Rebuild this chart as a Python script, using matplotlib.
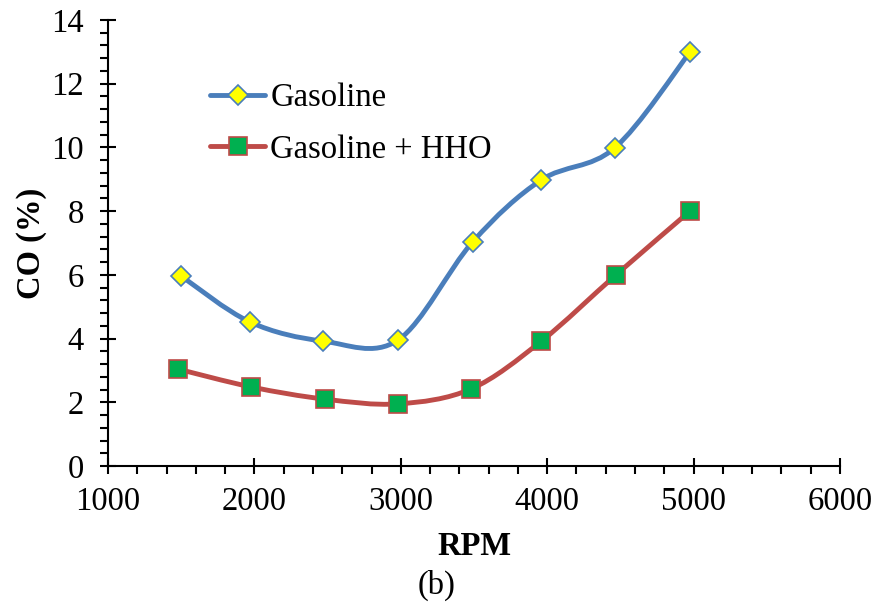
import matplotlib
matplotlib.use("Agg")
import matplotlib.pyplot as plt
from matplotlib.path import Path
from matplotlib.patches import PathPatch
from matplotlib.lines import Line2D
from matplotlib.ticker import MultipleLocator
import numpy as np

# data
rpm_gas = [1500, 1970, 2470, 2980, 3490, 3960, 4460, 4975]
co_gas = [5.96, 4.52, 3.92, 3.95, 7.03, 8.98, 9.98, 12.99]
rpm_hho = [1480, 1980, 2480, 2980, 3480, 3960, 4470, 4975]
co_hho = [3.04, 2.48, 2.10, 1.95, 2.42, 3.92, 6.00, 8.00]

blue = "#4A7EBB"
red = "#BE4B48"
fs = 23.5

plt.rcParams['font.family'] = ['Liberation Serif', 'DejaVu Serif']


def smooth_path(xs, ys):
    # excel style smoothed line: cubic bezier, catmull-rom control points
    p = np.column_stack([xs, ys]).astype(float)
    n = len(p)
    verts = [p[0]]
    codes = [Path.MOVETO]
    for i in range(n - 1):
        p0 = p[i - 1] if i > 0 else p[i]
        p1 = p[i]
        p2 = p[i + 1]
        p3 = p[i + 2] if i + 2 < n else p[i + 1]
        c1 = p1 + (p2 - p0) / 6.0
        c2 = p2 - (p3 - p1) / 6.0
        verts += [c1, c2, p2]
        codes += [Path.CURVE4] * 3
    return Path(verts, codes)


fig = plt.figure(figsize=(8.74, 6.02), dpi=100)
ax = fig.add_axes([0.1236, 0.2259, 0.8375, 0.7409])

ax.add_patch(PathPatch(smooth_path(rpm_gas, co_gas), fill=False,
                       edgecolor=blue, lw=3.5, capstyle='round', zorder=2))
ax.add_patch(PathPatch(smooth_path(rpm_hho, co_hho), fill=False,
                       edgecolor=red, lw=3.5, capstyle='round', zorder=2))

ax.plot(rpm_gas, co_gas, ls='none', marker='D', ms=10.5, mfc='#FFFF00',
        mec=blue, mew=1.2, zorder=3)
ax.plot(rpm_hho, co_hho, ls='none', marker='s', ms=13.5, mfc='#00B050',
        mec=red, mew=1.2, zorder=3)

ax.set_xlim(1000, 6000)
ax.set_ylim(0, 14)
ax.xaxis.set_major_locator(MultipleLocator(1000))
ax.xaxis.set_minor_locator(MultipleLocator(200))
ax.yaxis.set_major_locator(MultipleLocator(2))
ax.yaxis.set_minor_locator(MultipleLocator(0.4))
ax.tick_params(which='major', direction='inout', length=11, width=1.5,
               labelsize=fs)
ax.tick_params(axis='x', which='major', pad=9)
ax.tick_params(axis='y', which='major', pad=12)
ax.tick_params(which='minor', direction='out', length=6, width=1.5)
for s in ['top', 'right']:
    ax.spines[s].set_visible(False)
for s in ['left', 'bottom']:
    ax.spines[s].set_linewidth(1.5)

ax.set_xlabel("RPM", fontsize=fs, fontweight='bold', labelpad=10)
ax.set_ylabel("CO (%)", fontsize=fs, fontweight='bold', labelpad=3)
fig.text(0.5, 0.014, "(b)", ha='center', fontsize=fs)

handles = [
    Line2D([], [], color=blue, lw=3.5, marker='D', ms=10.5, mfc='#FFFF00',
           mec=blue, mew=1.2, solid_capstyle='round'),
    Line2D([], [], color=red, lw=3.5, marker='s', ms=13.5, mfc='#00B050',
           mec=red, mew=1.2, solid_capstyle='round'),
]
ax.legend(handles, ["Gasoline", "Gasoline + HHO"], loc='upper left',
          bbox_to_anchor=(0.139, 0.859), frameon=False, fontsize=fs,
          borderpad=0, borderaxespad=0, handlelength=1.7,
          handletextpad=0.15, labelspacing=0.64)

fig.savefig("out.png", dpi=100)
